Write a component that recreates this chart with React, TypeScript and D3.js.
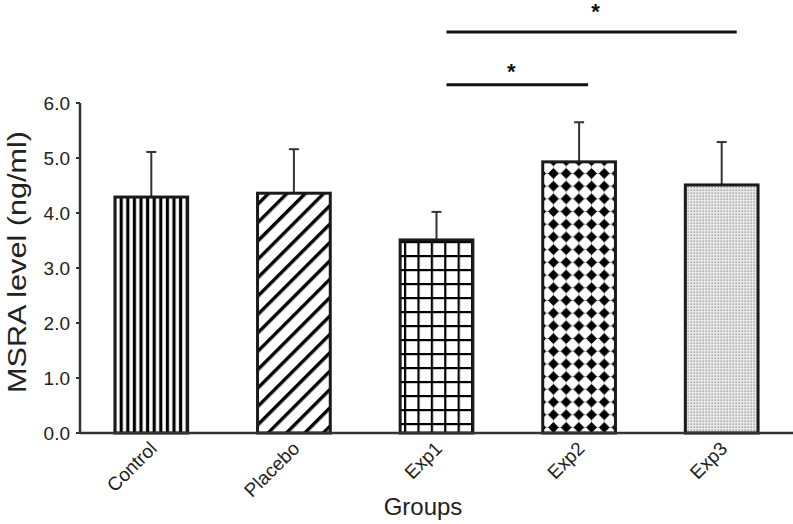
import React from "react";
import * as d3 from "d3";

const categories = ["Control", "Placebo", "Exp1", "Exp2", "Exp3"];
const means = [4.29, 4.36, 3.51, 4.93, 4.51];
const errors = [0.82, 0.8, 0.51, 0.72, 0.78];
const yTicks = [0, 1, 2, 3, 4, 5, 6];
const comparisons = [
  { from: "Exp1", to: "Exp2", level: 6.33, label: "*" },
  { from: "Exp1", to: "Exp3", level: 7.29, label: "*" },
];
const patternIds = ["pVert", "pDiag", "pGrid", "pDiamond", "pDots"];
const starStyle = [
  { dx: -6, dy: -6, endPad: 9 },
  { dx: 4, dy: -13, endPad: 15 },
];

const W = 793;
const H = 524;
const left = 80;
const right = 793;
const top = 103;
const bottom = 433;
const font = "'Liberation Sans', Arial, Helvetica, sans-serif";

export default function App() {
  const x = d3.scaleBand<string>().domain(categories).range([left, right]).paddingInner(0.49).paddingOuter(0.245);
  const y = d3.scaleLinear().domain([0, 6]).range([bottom, top]);
  const bw = x.bandwidth();
  const fmt = d3.format(".1f");

  return (
    <svg width={W} height={H} style={{ position: "absolute", left: 0, top: 0, background: "#fff" }}>
      <defs>
        <pattern id="pVert" patternUnits="userSpaceOnUse" width={6.6} height={10} x={0}>
          <rect width={6.6} height={10} fill="#fff" />
          <rect x={0.8} width={3.2} height={10} fill="#000" />
        </pattern>
        <pattern id="pDiag" patternUnits="userSpaceOnUse" width={13} height={13} patternTransform="rotate(45)">
          <rect width={13} height={13} fill="#fff" />
          <rect x={0} width={3.4} height={13} fill="#000" />
        </pattern>
        <pattern id="pGrid" patternUnits="userSpaceOnUse" width={13.4} height={14} x={2} y={3}>
          <rect width={13.4} height={14} fill="#fff" />
          <rect x={0} width={2.2} height={14} fill="#000" />
          <rect y={0} width={13.4} height={2.2} fill="#000" />
        </pattern>
        <pattern id="pDiamond" patternUnits="userSpaceOnUse" width={12.7} height={12.7} x={1} y={2}>
          <rect width={12.7} height={12.7} fill="#fff" />
          <rect x={0} y={6.0} width={12.7} height={0.6} fill="#888" />
          <rect x={6.0} y={0} width={0.6} height={12.7} fill="#888" />
          <path d="M6.35,1.3 L11.4,6.35 L6.35,11.4 L1.3,6.35 Z" fill="#000" stroke="#000" strokeWidth={0.8} strokeLinejoin="round" />
        </pattern>
        <pattern id="pDots" patternUnits="userSpaceOnUse" width={3} height={3}>
          <rect width={3} height={3} fill="#e8e8e8" />
          <rect x={0.5} y={0.5} width={1.3} height={1.3} fill="#8f8f8f" />
        </pattern>
      </defs>

      {/* error bars */}
      {categories.map((c, i) => {
        const cx = x(c)! + bw / 2;
        return (
          <g key={"e" + c} stroke="#333" strokeWidth={2}>
            <line x1={cx} x2={cx} y1={y(means[i])} y2={y(means[i] + errors[i])} />
            <line x1={cx - 5} x2={cx + 5} y1={y(means[i] + errors[i])} y2={y(means[i] + errors[i])} />
          </g>
        );
      })}

      {/* bars */}
      {categories.map((c, i) => (
        <rect
          key={"b" + c}
          x={x(c)!}
          y={y(means[i])}
          width={bw}
          height={y(0) - y(means[i])}
          fill={`url(#${patternIds[i]})`}
          stroke="#1a1a1a"
          strokeWidth={3}
        />
      ))}

      {/* axes */}
      <line x1={left} x2={left} y1={top} y2={bottom} stroke="#333" strokeWidth={2.5} />
      <line x1={left} x2={right} y1={bottom} y2={bottom} stroke="#333" strokeWidth={2.5} />
      {yTicks.map((t) => (
        <g key={"t" + t}>
          <line x1={left - 4} x2={left} y1={y(t)} y2={y(t)} stroke="#333" strokeWidth={2} />
          <text x={left - 10} y={y(t)} dy="0.36em" textAnchor="end" fontFamily={font} fontSize={19} fill="#222">
            {fmt(t)}
          </text>
        </g>
      ))}

      {/* x labels */}
      {categories.map((c) => {
        const cx = x(c)! + bw / 2;
        return (
          <text
            key={"l" + c}
            transform={`translate(${cx + 2},${bottom + 12}) rotate(-45)`}
            textAnchor="end"
            dy="0.35em"
            fontFamily={font}
            fontSize={19}
            fill="#222"
          >
            {c}
          </text>
        );
      })}

      <text x={423} y={515} textAnchor="middle" fontFamily={font} fontSize={24} fill="#222">
        Groups
      </text>
      <text
        transform={`translate(26,262) rotate(-90)`}
        textAnchor="middle"
        fontFamily={font}
        fontSize={25}
        textLength={262}
        lengthAdjust="spacingAndGlyphs"
        fill="#222"
      >
        MSRA level (ng/ml)
      </text>

      {/* significance */}
      {comparisons.map((cmp, k) => {
        const x1 = x(cmp.from)! + bw / 2 + 10;
        const x2 = x(cmp.to)! + bw / 2 + starStyle[k].endPad;
        const yy = y(cmp.level);
        return (
          <g key={cmp.from + cmp.to}>
            <line x1={x1} x2={x2} y1={yy} y2={yy} stroke="#111" strokeWidth={3} />
            <text
              x={(x1 + x2) / 2 + starStyle[k].dx}
              y={yy + starStyle[k].dy}
              textAnchor="middle"
              fontFamily={font}
              fontSize={22}
              fontWeight="bold"
              fill="#111"
            >
              {cmp.label}
            </text>
          </g>
        );
      })}
    </svg>
  );
}
